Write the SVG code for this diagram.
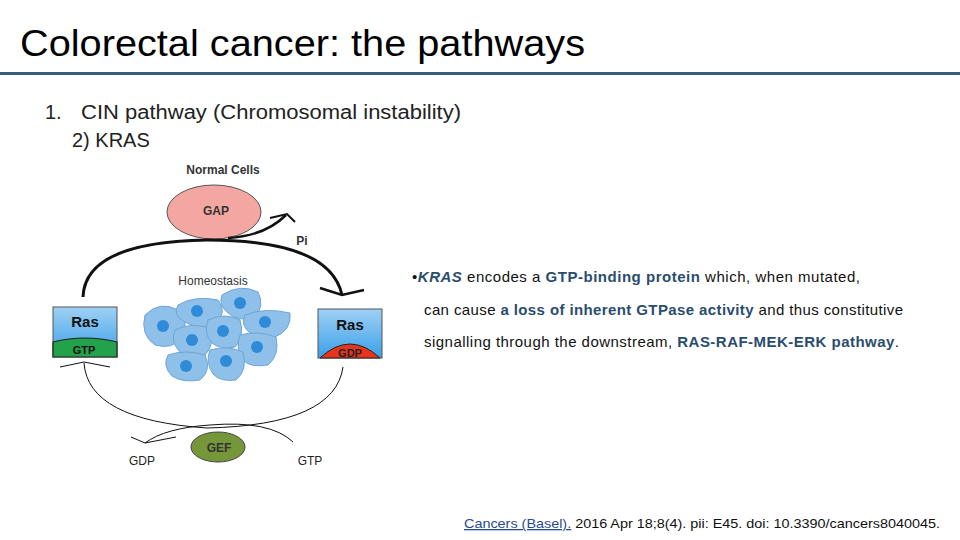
<svg xmlns="http://www.w3.org/2000/svg" width="960" height="540" viewBox="0 0 960 540">
<style>
text{font-family:"Liberation Sans",Arial,sans-serif}
.b{font-weight:bold}
.hl{fill:#2a4d6e;font-weight:bold}
.lbl{font-size:12px;font-weight:bold;fill:#333}
.cell{fill:#8ec0ea;stroke:#6fa6d6;stroke-width:1}
.nuc{fill:#2f8ad8}
</style>
<defs>
<linearGradient id="rg" x1="0" y1="0" x2="0" y2="1"><stop offset="0" stop-color="#9fd0f5"/><stop offset="1" stop-color="#3aa0e8"/></linearGradient>
</defs>
<rect width="960" height="540" fill="#fff"/>
<text x="20" y="56" font-size="36" textLength="565" lengthAdjust="spacingAndGlyphs">Colorectal cancer: the pathways</text>
<rect x="0" y="72" width="960" height="3" fill="#3b5a78"/>
<text x="45" y="119" font-size="20" fill="#222">1.</text>
<text x="81" y="119" font-size="20" fill="#222" textLength="380" lengthAdjust="spacingAndGlyphs">CIN pathway (Chromosomal instability)</text>
<text x="72" y="147" font-size="20" fill="#222">2) KRAS</text>

<g id="labels">
<text x="223" y="174" text-anchor="middle" class="lbl">Normal Cells</text>
<text x="213" y="285" text-anchor="middle" font-size="12" fill="#333">Homeostasis</text>
<text x="302" y="245" text-anchor="middle" class="lbl" font-size="11">Pi</text>
<text x="142" y="465" text-anchor="middle" font-size="12" fill="#222">GDP</text>
<text x="310" y="465" text-anchor="middle" font-size="12" fill="#222">GTP</text>
</g>
<g id="gap"><ellipse cx="214" cy="212" rx="47" ry="27" fill="#f4a6a3" stroke="#555" stroke-width="1"/><text x="216" y="215" text-anchor="middle" class="lbl" font-size="13">GAP</text></g>
<g id="gef"><ellipse cx="218" cy="447" rx="27" ry="15" fill="#76963a" stroke="#444" stroke-width="1"/><text x="219" y="452" text-anchor="middle" class="lbl" font-size="12">GEF</text></g>
<g id="ras-gtp">
<rect x="53" y="307" width="64" height="50" fill="url(#rg)" stroke="#555"/>
<path d="M53 342 Q85 334 117 342 V357 H53 Z" fill="#22a24a" stroke="#222" stroke-width="1.2"/>
<text x="85" y="327" text-anchor="middle" class="b" font-size="15" fill="#111">Ras</text>
<text x="84" y="354" text-anchor="middle" class="b" font-size="11" fill="#111">GTP</text>
</g>
<g id="ras-gdp">
<rect x="318" y="309" width="64" height="49" fill="url(#rg)" stroke="#555"/>
<path d="M320 358 Q350 330 380 358 Z" fill="#e8341c" stroke="#222" stroke-width="1"/>
<text x="350" y="330" text-anchor="middle" class="b" font-size="15" fill="#111">Ras</text>
<text x="350" y="357" text-anchor="middle" class="b" font-size="11" fill="#222">GDP</text>
</g>
<g id="cells">
<path class="cell" d="M145 315 Q160 300 178 310 Q190 320 182 338 Q172 350 155 345 Q140 335 145 315Z"/><circle class="nuc" cx="163" cy="326" r="6"/>
<path class="cell" d="M178 305 Q195 295 218 300 Q228 312 215 325 Q198 330 185 322 Q172 315 178 305Z"/><circle class="nuc" cx="197" cy="311" r="6"/>
<path class="cell" d="M222 295 Q240 283 258 292 Q265 305 255 318 Q238 322 228 313 Q218 305 222 295Z"/><circle class="nuc" cx="240" cy="303" r="6"/>
<path class="cell" d="M245 315 Q265 307 290 313 Q292 330 275 337 Q258 340 250 333 Q240 325 245 315Z"/><circle class="nuc" cx="265" cy="322" r="6"/>
<path class="cell" d="M175 330 Q190 322 210 328 Q215 345 205 355 Q190 360 180 352 Q170 342 175 330Z"/><circle class="nuc" cx="192" cy="340" r="6"/>
<path class="cell" d="M208 320 Q225 312 240 320 Q245 337 235 347 Q220 350 212 343 Q203 333 208 320Z"/><circle class="nuc" cx="223" cy="331" r="6"/>
<path class="cell" d="M240 335 Q258 330 276 337 Q280 355 268 365 Q250 368 243 360 Q235 348 240 335Z"/><circle class="nuc" cx="257" cy="347" r="6"/>
<path class="cell" d="M168 355 Q185 349 205 355 Q212 370 200 380 Q182 383 172 376 Q162 366 168 355Z"/><circle class="nuc" cx="186" cy="366" r="6"/>
<path class="cell" d="M210 350 Q228 345 243 352 Q248 370 236 380 Q220 382 213 374 Q205 362 210 350Z"/><circle class="nuc" cx="226" cy="361" r="6"/>
</g>
<g id="connectors" fill="none" stroke="#111">
<path d="M83 297 Q85 242 207 240 Q330 240 342 295" stroke-width="3"/>
<path d="M320 288 L342 295 L364 290" stroke-width="2.5"/>
<path d="M228 238 Q265 236 286 215" stroke-width="2.5"/>
<path d="M270 218 L287 214 L295 222" stroke-width="2"/>
<path d="M84 363 Q88 420 207 428 Q335 425 343 367" stroke-width="1"/>
<path d="M60 367 L84 362 L110 367" stroke-width="1"/>
<path d="M293 442 Q270 420 210 425 Q165 428 145 443" stroke-width="1"/>
<path d="M131 437 L145 443 L176 437" stroke-width="1"/>
</g>
<g id="bullets" font-size="15" fill="#111">
<text x="412" y="282" textLength="448" lengthAdjust="spacing">•<tspan font-style="italic" class="hl" font-weight="normal">KRAS</tspan> encodes a <tspan class="hl">GTP-binding protein</tspan> which, when mutated,</text>
<text x="424" y="315" textLength="479" lengthAdjust="spacing">can cause <tspan class="hl">a loss of inherent GTPase activity</tspan> and thus constitutive</text>
<text x="424" y="347" textLength="475" lengthAdjust="spacing">signalling through the downstream, <tspan class="hl">RAS-RAF-MEK-ERK pathway</tspan>.</text>
</g>
<text x="464" y="528" font-size="13" fill="#111" textLength="476" lengthAdjust="spacingAndGlyphs"><tspan fill="#2a4d8e" text-decoration="underline">Cancers (Basel).</tspan> 2016 Apr 18;8(4). pii: E45. doi: 10.3390/cancers8040045.</text>
</svg>
